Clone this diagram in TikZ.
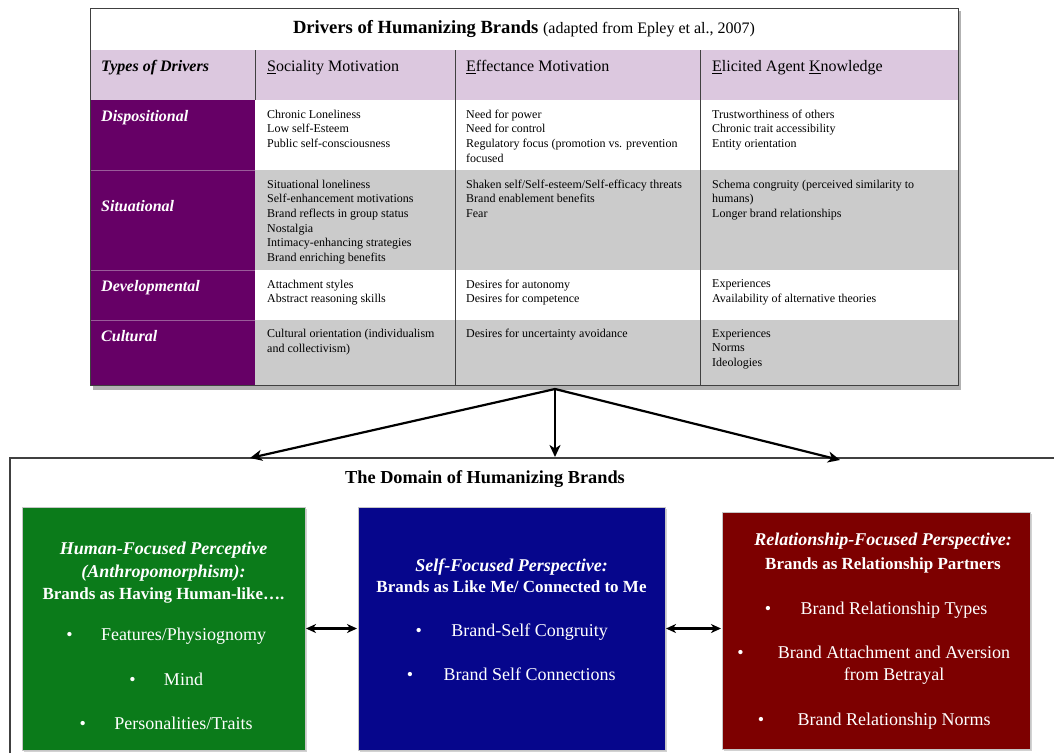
\documentclass[tikz,border=0pt]{standalone}
\usepackage{fontspec}
\setmainfont{Liberation Serif}
\usepackage{xcolor}
\usetikzlibrary{positioning,arrows.meta,shadows}
\definecolor{lilac}{HTML}{DCC8DF}
\definecolor{plum}{HTML}{660066}
\definecolor{plumline}{HTML}{9A5C9A}
\definecolor{rowgray}{HTML}{CBCBCB}
\definecolor{gridgray}{HTML}{404040}
\definecolor{humgreen}{HTML}{0B7B1A}
\definecolor{selfblue}{HTML}{06068C}
\definecolor{relred}{HTML}{7D0000}

\begin{document}
\begin{tikzpicture}
[
x=1pt, y=-1pt,
cell-t/.style={rectangle, inner sep=0pt, outer sep=0pt, fill=white, minimum width=868pt, minimum height=42pt},
cell-h/.style={rectangle, inner sep=0pt, outer sep=0pt, fill=lilac, minimum height=50pt},
cell-w/.style={rectangle, inner sep=0pt, outer sep=0pt, fill=white},
cell-g/.style={rectangle, inner sep=0pt, outer sep=0pt, fill=rowgray},
cell-p/.style={fill=plum},
col-0/.style={minimum width=165pt},
col-1/.style={minimum width=200pt},
col-2/.style={minimum width=245pt},
col-3/.style={minimum width=258pt},
row-dis/.style={minimum height=70pt},
row-sit/.style={minimum height=100pt},
row-dev/.style={minimum height=50pt},
row-cul/.style={minimum height=65pt},
text-h/.style={inner sep=0pt, font=\fontsize{16}{19}\selectfont},
text-p/.style={inner sep=0pt, text=white, font=\fontsize{16}{19}\selectfont\bfseries\itshape},
text-a/.style={inner sep=0pt, align=left, font=\fontsize{12}{14.7}\selectfont},
grid-a/.style={draw=gridgray, line width=1pt},
box-a/.style={rectangle, inner sep=0pt, outer sep=0pt, draw=gray!45, line width=0.6pt,
              drop shadow={shadow xshift=2pt, shadow yshift=-2pt, fill=black!35}},
head-b/.style={inner sep=0pt, text=white, text height=12.5pt, text depth=4pt, font=\fontsize{18}{21}\selectfont\bfseries\itshape},
sub-b/.style={inner sep=0pt, text=white, text height=12.5pt, text depth=4pt, font=\fontsize{17}{20}\selectfont\bfseries},
item-b/.style={inner sep=0pt, text=white, text height=13pt, text depth=4pt, font=\fontsize{18}{21}\selectfont},
flow-a/.style={line width=2.2pt, -{Stealth[length=12pt, width=11pt, inset=3.5pt]}},
link-a/.style={line width=2.2pt, {Stealth[length=10pt, width=9pt, inset=3pt]}-{Stealth[length=10pt, width=9pt, inset=3pt]}, shorten <=1pt, shorten >=1pt}
]
\useasboundingbox (0,0) rectangle (1054,753);
\fill[white] (0,0) rectangle (1054,753);

% table of drivers
\fill[black!30] (93,11) rectangle (961,390);
\node (title)    [cell-t, anchor=north west] at (90,8) {};
\node (head-0)   [cell-h, col-0, below right = 00.00mm and 00.00mm of title.south west] {};
\node (head-1)   [cell-h, col-1, right = 00.00mm of head-0] {};
\node (head-2)   [cell-h, col-2, right = 00.00mm of head-1] {};
\node (head-3)   [cell-h, col-3, right = 00.00mm of head-2] {};
\node (dis-0)    [cell-w, col-0, row-dis, cell-p, below = 00.00mm of head-0] {};
\node (dis-1)    [cell-w, col-1, row-dis, right = 00.00mm of dis-0] {};
\node (dis-2)    [cell-w, col-2, row-dis, right = 00.00mm of dis-1] {};
\node (dis-3)    [cell-w, col-3, row-dis, right = 00.00mm of dis-2] {};
\node (sit-0)    [cell-g, col-0, row-sit, cell-p, below = 00.00mm of dis-0] {};
\node (sit-1)    [cell-g, col-1, row-sit, right = 00.00mm of sit-0] {};
\node (sit-2)    [cell-g, col-2, row-sit, right = 00.00mm of sit-1] {};
\node (sit-3)    [cell-g, col-3, row-sit, right = 00.00mm of sit-2] {};
\node (dev-0)    [cell-w, col-0, row-dev, cell-p, below = 00.00mm of sit-0] {};
\node (dev-1)    [cell-w, col-1, row-dev, right = 00.00mm of dev-0] {};
\node (dev-2)    [cell-w, col-2, row-dev, right = 00.00mm of dev-1] {};
\node (dev-3)    [cell-w, col-3, row-dev, right = 00.00mm of dev-2] {};
\node (cul-0)    [cell-g, col-0, row-cul, cell-p, below = 00.00mm of dev-0] {};
\node (cul-1)    [cell-g, col-1, row-cul, right = 00.00mm of cul-0] {};
\node (cul-2)    [cell-g, col-2, row-cul, right = 00.00mm of cul-1] {};
\node (cul-3)    [cell-g, col-3, row-cul, right = 00.00mm of cul-2] {};

\draw[plumline, line width=1pt] (sit-0.north west) -- (sit-0.north east);
\draw[plumline, line width=1pt] (dev-0.north west) -- (dev-0.north east);
\draw[plumline, line width=1pt] (cul-0.north west) -- (cul-0.north east);
\draw[grid-a] (head-1.north west) -- (head-1.south west);
\draw[grid-a] (head-2.north west) -- (cul-2.south west);
\draw[grid-a] (head-3.north west) -- (cul-3.south west);
\draw[grid-a] (title.north west) rectangle (cul-3.south east);

\node (title-t)  [inner sep=0pt] at (title) {{\fontsize{18.6}{21}\selectfont\bfseries Drivers of Humanizing Brands\ }{\fontsize{16}{19}\selectfont(adapted from Epley et al., 2007)}};
\node (head-0-t) [text-h, below right = 10.4pt and 11pt of head-0.north west] {\bfseries\itshape Types of Drivers};
\node (head-1-t) [text-h, below right = 10.4pt and 12pt of head-1.north west] {\underline{S}ociality Motivation};
\node (head-2-t) [text-h, below right = 10.4pt and 11pt of head-2.north west] {\underline{E}ffectance Motivation};
\node (head-3-t) [text-h, below right = 10.4pt and 12pt of head-3.north west] {\underline{E}licited Agent \underline{K}nowledge};
\node (dis-0-t)  [text-p, below right = 10.4pt and 11pt of dis-0.north west] {Dispositional};
\node (sit-0-t)  [text-p, below right = 30.4pt and 11pt of sit-0.north west] {Situational};
\node (dev-0-t)  [text-p, below right = 10.4pt and 11pt of dev-0.north west] {Developmental};
\node (cul-0-t)  [text-p, below right = 10.4pt and 11pt of cul-0.north west] {Cultural};

\node (dis-1-t)  [text-a, below right = 9.5pt and 12pt of dis-1.north west] {Chronic Loneliness\\Low self-Esteem\\Public self-consciousness};
\node (dis-2-t)  [text-a, below right = 9.5pt and 11pt of dis-2.north west] {Need for power\\Need for control\\Regulatory focus (promotion vs. prevention\\focused};
\node (dis-3-t)  [text-a, below right = 9.5pt and 12pt of dis-3.north west] {Trustworthiness of others\\Chronic trait accessibility\\Entity orientation};
\node (sit-1-t)  [text-a, below right = 9.5pt and 12pt of sit-1.north west] {Situational loneliness\\Self-enhancement motivations\\Brand reflects in group status\\Nostalgia\\Intimacy-enhancing strategies\\Brand enriching benefits};
\node (sit-2-t)  [text-a, below right = 9.5pt and 11pt of sit-2.north west] {Shaken self/Self-esteem/Self-efficacy threats\\Brand enablement benefits\\Fear};
\node (sit-3-t)  [text-a, below right = 9.5pt and 12pt of sit-3.north west] {Schema congruity (perceived similarity to\\humans)\\Longer brand relationships};
\node (dev-1-t)  [text-a, below right = 9.5pt and 12pt of dev-1.north west] {Attachment styles\\Abstract reasoning skills};
\node (dev-2-t)  [text-a, below right = 9.5pt and 11pt of dev-2.north west] {Desires for autonomy\\Desires for competence};
\node (dev-3-t)  [text-a, below right = 9.5pt and 12pt of dev-3.north west] {Experiences\\Availability of alternative theories};
\node (cul-1-t)  [text-a, below right = 9pt and 12pt of cul-1.north west] {Cultural orientation (individualism\\and collectivism)};
\node (cul-2-t)  [text-a, below right = 9pt and 11pt of cul-2.north west] {Desires for uncertainty avoidance};
\node (cul-3-t)  [text-a, below right = 9pt and 12pt of cul-3.north west] {Experiences\\Norms\\Ideologies};

% domain of humanizing brands
\draw[draw=gridgray, line width=1.2pt] (10,753) |- (1054,458);
\coordinate (fork)  at (555,389);
\coordinate (dom-l) at (250,458);
\coordinate (dom-m) at (555,457);
\coordinate (dom-r) at (840,460);
\draw[flow-a] (fork) -- (dom-l);
\draw[flow-a] (fork) -- (dom-m);
\draw[flow-a] (fork) -- (dom-r);
\node (domain) [inner sep=0pt, font=\fontsize{18.3}{21}\selectfont\bfseries] at (485,479) {The Domain of Humanizing Brands};

\node (hum)  [box-a, fill=humgreen, minimum width=283pt, minimum height=243pt, anchor=north west] at (22,507) {};
\node (self) [box-a, fill=selfblue, minimum width=307pt, minimum height=243pt, right = 53pt of hum] {};
\node (rel)  [box-a, fill=relred,   minimum width=308pt, minimum height=237pt, anchor=north west] at (722,512) {};

\node (hum-h1)  [head-b, below = 35.1pt of hum.north] {Human-Focused Perceptive};
\node (hum-h2)  [head-b, below = 6pt of hum-h1] {(Anthropomorphism):};
\node (hum-h3)  [sub-b,  below = 4.4pt of hum-h2] {Brands as Having Human-like….};
\node (hum-1)   [item-b, below = 24.5pt of hum-h3, xshift=20pt] {Features/Physiognomy};
\node (hum-2)   [item-b, below = 27pt of hum-1] {Mind};
\node (hum-3)   [item-b, below = 27pt of hum-2] {Personalities/Traits};
\node (hum-1b)  [item-b, left = 28pt of hum-1] {\textbullet};
\node (hum-2b)  [item-b, left = 28pt of hum-2] {\textbullet};
\node (hum-3b)  [item-b, left = 28pt of hum-3] {\textbullet};

\node (self-h1) [head-b, below = 52.1pt of self.north] {Self-Focused Perspective:};
\node (self-h2) [sub-b,  below = 3.4pt of self-h1] {Brands as Like Me/ Connected to Me};
\node (self-1)  [item-b, below = 26.5pt of self-h2, xshift=18pt] {Brand-Self Congruity};
\node (self-2)  [item-b, below = 27pt of self-1] {Brand Self Connections};
\node (self-1b) [item-b, left = 29pt of self-1] {\textbullet};
\node (self-2b) [item-b, left = 30pt of self-2] {\textbullet};

\node (rel-h1)  [head-b, below = 21.1pt of rel.north, xshift=7pt] {Relationship-Focused Perspective:};
\node (rel-h2)  [sub-b,  below = 6.4pt of rel-h1] {Brands as Relationship Partners};
\node (rel-1)   [item-b, below = 27.5pt of rel-h2, xshift=11pt] {Brand Relationship Types};
\node (rel-2)   [item-b, below = 27pt of rel-1] {Brand Attachment and Aversion};
\node (rel-2c)  [item-b, below = 5pt of rel-2] {from Betrayal};
\node (rel-3)   [item-b, below = 27pt of rel-2c] {Brand Relationship Norms};
\node (rel-1b)  [item-b, left = 29pt of rel-1] {\textbullet};
\node (rel-2b)  [item-b, left = 34pt of rel-2] {\textbullet};
\node (rel-3b)  [item-b, left = 33pt of rel-3] {\textbullet};

\draw[link-a] (hum) -- (self);
\draw[link-a] (self.east) -- (self.east -| rel.west);
\end{tikzpicture}
\end{document}
